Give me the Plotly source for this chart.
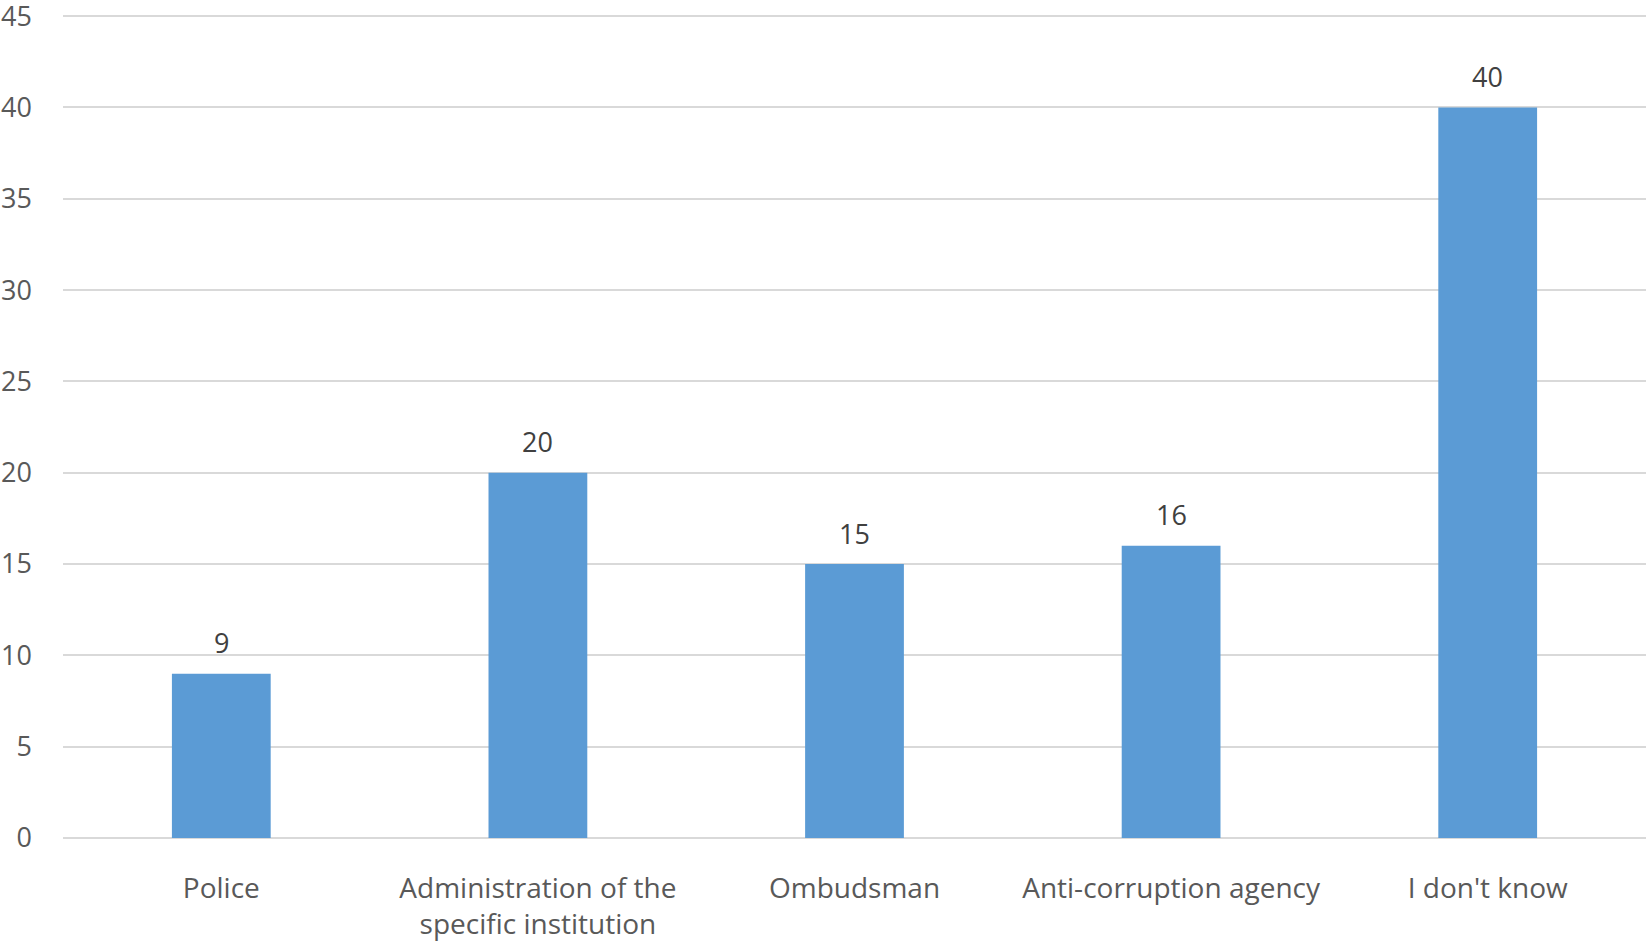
import plotly.graph_objects as go

categories = ["Police", "Administration of the<br>specific institution", "Ombudsman",
              "Anti-corruption agency", "I don't know"]
values = [9, 20, 15, 16, 40]
y_ticks = [0, 5, 10, 15, 20, 25, 30, 35, 40, 45]

FONT = "Open Sans"

fig = go.Figure()
fig.add_trace(go.Bar(
    x=categories, y=values,
    marker=dict(color="#5b9bd5", line=dict(width=0)),
    hoverinfo="skip",
))

for c, v in zip(categories, values):
    fig.add_annotation(x=c, y=v, text=str(v), showarrow=False,
                       yanchor="middle", yshift=31,
                       font=dict(family=FONT, size=27, color="#404040"))

fig.update_layout(
    width=1646, height=943, autosize=False,
    margin=dict(l=63, r=0, t=7, b=105, pad=0),
    plot_bgcolor="white", paper_bgcolor="white",
    bargap=0.688,
    showlegend=False,
    hovermode=False,
    font=dict(family=FONT, size=28, color="#595959"),
)
fig.update_xaxes(
    automargin=False,
    showgrid=False, showline=False, zeroline=False,
    tickfont=dict(family=FONT, size=28, color="#595959"),
    ticklabelstandoff=31,
    ticklabeloverflow="allow",
)
fig.update_yaxes(
    automargin=False,
    range=[0, 45.5], tickvals=y_ticks,
    showgrid=True, gridcolor="#d9d9d9", gridwidth=1.5,
    zeroline=True, zerolinecolor="#d9d9d9", zerolinewidth=1.5,
    showline=False,
    tickfont=dict(family=FONT, size=27, color="#595959"),
    ticklabelstandoff=30,
    ticklabeloverflow="allow",
)

fig.write_html(
    "out.html",
    config={"displayModeBar": False},
    post_script="document.body.style.margin='0';document.body.style.overflow='hidden';",
)
